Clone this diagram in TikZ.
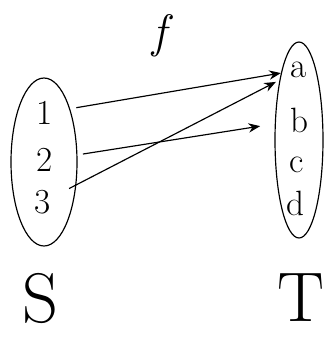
\documentclass[tikz,border=0pt]{standalone}
\usepackage{tikz}
\usetikzlibrary{shapes.geometric, arrows.meta, positioning}

\begin{document}
\begin{tikzpicture}[
    x=0.03cm, y=-0.03cm,
    setshape/.style={draw, line width=1pt, ellipse, inner sep=0pt},
    elem/.style={font=\fontsize{30}{32}\selectfont, inner sep=0pt},
    setname/.style={font=\fontsize{60}{62}\selectfont, inner sep=0pt},
    arrow/.style={-{Stealth[length=3.5mm, width=2.8mm]}, line width=1pt},
]
\useasboundingbox (0,0) rectangle (329,337);

% Sets
\node[setshape, minimum width=66*0.03cm, minimum height=168*0.03cm] (sset) at (44,162) {};
\node[setshape, minimum width=48*0.03cm, minimum height=196*0.03cm] (tset) at (299,140) {};

% Elements of S
\node[elem] (e1) at (45,113) {1};
\node[elem] (e2) at (45,160) {2};
\node[elem] (e3) at (43,202) {3};

% Elements of T
\node[elem] (ea) at (299,70) {a};
\node[elem] (eb) at (299,120) {b};
\node[elem] (ec) at (297,165) {c};
\node[elem] (ed) at (295,203) {d};

% Names
\node[inner sep=0pt, font=\fontsize{40}{42}\selectfont\itshape] (fname) at (160,36) {f};
\node[setname] (sname) at (40,298) {S};
\node[setname] (tname) at (301,298) {T};

% The map
\draw[arrow, shorten <=0.7cm, shorten >=0.3cm] (e1) -- (ea);
\draw[arrow, shorten <=0.9cm, shorten >=0.9cm] (e2) -- (eb);
\draw[arrow, shorten <=0.6cm, shorten >=0.5cm] (e3) -- (ea);
\end{tikzpicture}
\end{document}
